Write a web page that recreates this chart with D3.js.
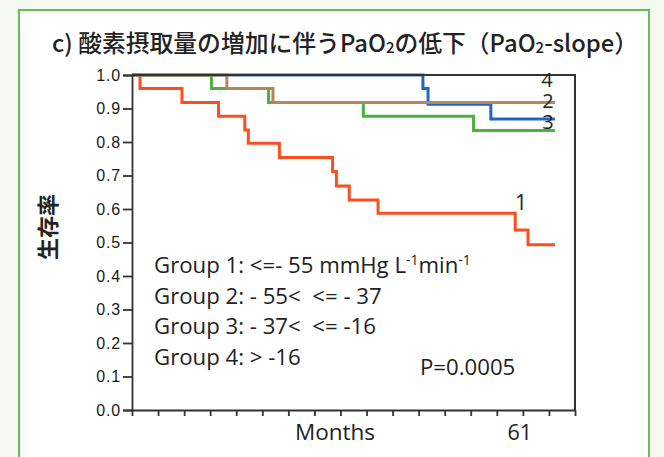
<!DOCTYPE html>
<html><head><meta charset="utf-8">
<script src="https://cdn.jsdelivr.net/npm/d3@7/dist/d3.min.js"></script>
<style>
html,body{margin:0;padding:0;background:#f3f9f1;}
svg{display:block;}
text{white-space:pre;}
</style></head>
<body>
<svg id="c" width="664" height="457"></svg>
<script>
// ---- data (months, survival proportion) ----
const group1 = [[0,1.0],[1.25,0.96],[7.8,0.918],[13.5,0.877],[17.6,0.836],[18.15,0.796],[23.0,0.754],[31.3,0.712],[31.9,0.669],[33.9,0.627],[38.4,0.587],[59.8,0.537],[61.8,0.493],[66.0,0.493]];
const group2 = [[0,1.0],[14.8,0.96],[22.0,0.918],[66.0,0.918]];
const group3 = [[0,1.0],[12.4,0.96],[21.3,0.918],[36.1,0.877],[53.3,0.834],[66.0,0.834]];
const group4 = [[0,1.0],[45.4,0.96],[46.2,0.913],[56.0,0.869],[66.0,0.869]];
const yTicks = [0,0.1,0.2,0.3,0.4,0.5,0.6,0.7,0.8,0.9,1.0];
const xTickCount = 17;           // intervals of 61/15 months
const xLabelValue = 61;
const legendLines = ["Group 1: <=- 55 mmHg L", "Group 2: - 55<  <= - 37", "Group 3: - 37<  <= -16", "Group 4: > -16"];
const curveLabels = ["4","2","3","1"];

const svg = d3.select("#c");
// panel
svg.append("rect").attr("x",19).attr("y",10).attr("width",630).attr("height",460)
  .attr("fill","#fff").attr("stroke","#62c05a").attr("stroke-width",2);

// title
const title = svg.append("text").attr("x",52).attr("y",52)
  .attr("font-family","'Noto Sans CJK JP'").attr("font-size",23.8).attr("font-weight",500).attr("fill","#222");
title.append("tspan").text("c) 酸素摂取量の増加に伴うPaO");
title.append("tspan").text("2").attr("font-size",15).attr("dy",1);
title.append("tspan").text("の低下（PaO").attr("dy",-1);
title.append("tspan").text("2").attr("font-size",15).attr("dy",1);
title.append("tspan").text("-slope）").attr("dy",-1);

const L=132, R=575, T=75, B=410;
const xMax = 61*17/15;
const x = d3.scaleLinear().domain([0,xMax]).range([L,R]);
const y = d3.scaleLinear().domain([0,1]).range([B,T]);

// curves
const line = d3.line().x(d=>x(d[0])).y(d=>y(d[1])).curve(d3.curveStepAfter);
const series = [
  {data:group1,color:"#ff4d22"},
  {data:group4,color:"#2166c4"},
  {data:group3,color:"#4cb13f"},
  {data:group2,color:"#b8845a"}
];
svg.selectAll("path.km").data(series).join("path").attr("class","km")
  .attr("d",d=>line(d.data)).attr("fill","none").attr("stroke",d=>d.color).attr("stroke-width",3);

// frame top/right
svg.append("path").attr("d",`M${L},${T}H${R}V${B}`).attr("fill","none").attr("stroke","#333").attr("stroke-width",2);

// axes
const yAxis = d3.axisLeft(y).tickValues(yTicks).tickFormat(d3.format(".1f")).tickSize(9).tickPadding(2);
const gy = svg.append("g").attr("transform",`translate(${L},0)`).call(yAxis);
gy.select(".domain").attr("stroke","#333").attr("stroke-width",1.8);
gy.selectAll(".tick line").attr("stroke","#333").attr("stroke-width",1.8);
gy.selectAll(".tick text").attr("font-family","'Liberation Sans',Arial,sans-serif").attr("font-size",16).attr("fill","#1a1a1a").attr("letter-spacing","0.8px");

const xTicks = d3.range(0,xTickCount+1).map(i=>i*61/15);
const xAxis = d3.axisBottom(x).tickValues(xTicks).tickFormat("").tickSize(6).tickSizeOuter(0);
const gx = svg.append("g").attr("transform",`translate(0,${B})`).call(xAxis);
gx.select(".domain").attr("stroke","#333").attr("stroke-width",1.8);
gx.selectAll(".tick line").attr("stroke","#333").attr("stroke-width",1.8);

const sans = "'Open Sans',Lato,sans-serif";
svg.append("text").attr("x",x(xLabelValue)-3).attr("y",440).attr("text-anchor","middle")
  .attr("font-family",sans).attr("font-size",21.5).attr("fill","#222").text(String(xLabelValue));
svg.append("text").attr("x",335).attr("y",440).attr("text-anchor","middle")
  .attr("font-family",sans).attr("font-size",22.5).attr("fill","#222").text("Months");

// y label
svg.append("text").attr("transform","translate(56,227) rotate(-90)").attr("text-anchor","middle")
  .attr("font-family","'Noto Sans CJK JP'").attr("font-size",22).attr("font-weight",700).attr("fill","#222").text("生存率");

// curve labels
const labPos = {"4":[547,87],"2":[548,108],"3":[548,129],"1":[521,210]};
curveLabels.forEach(g=>{
  svg.append("text").attr("x",labPos[g][0]).attr("y",labPos[g][1]).attr("text-anchor","middle")
   .attr("font-family",sans).attr("font-size",g==="1"?21:20).attr("fill","#222").text(g);
});

// legend
const lg = svg.append("g").attr("font-family",sans).attr("font-size",22.2).attr("fill","#222");
legendLines.forEach((t,i)=>{
  const tx = lg.append("text").attr("x",154).attr("y",273+i*30.5);
  if(i===0){
    tx.append("tspan").text(t);
    tx.append("tspan").text("-1").attr("font-size",14).attr("dy",-8);
    tx.append("tspan").text("min").attr("dy",8);
    tx.append("tspan").text("-1").attr("font-size",14).attr("dy",-8);
  } else tx.text(t);
});
lg.append("text").attr("x",420).attr("y",375).text("P=0.0005");
</script>
</body></html>
